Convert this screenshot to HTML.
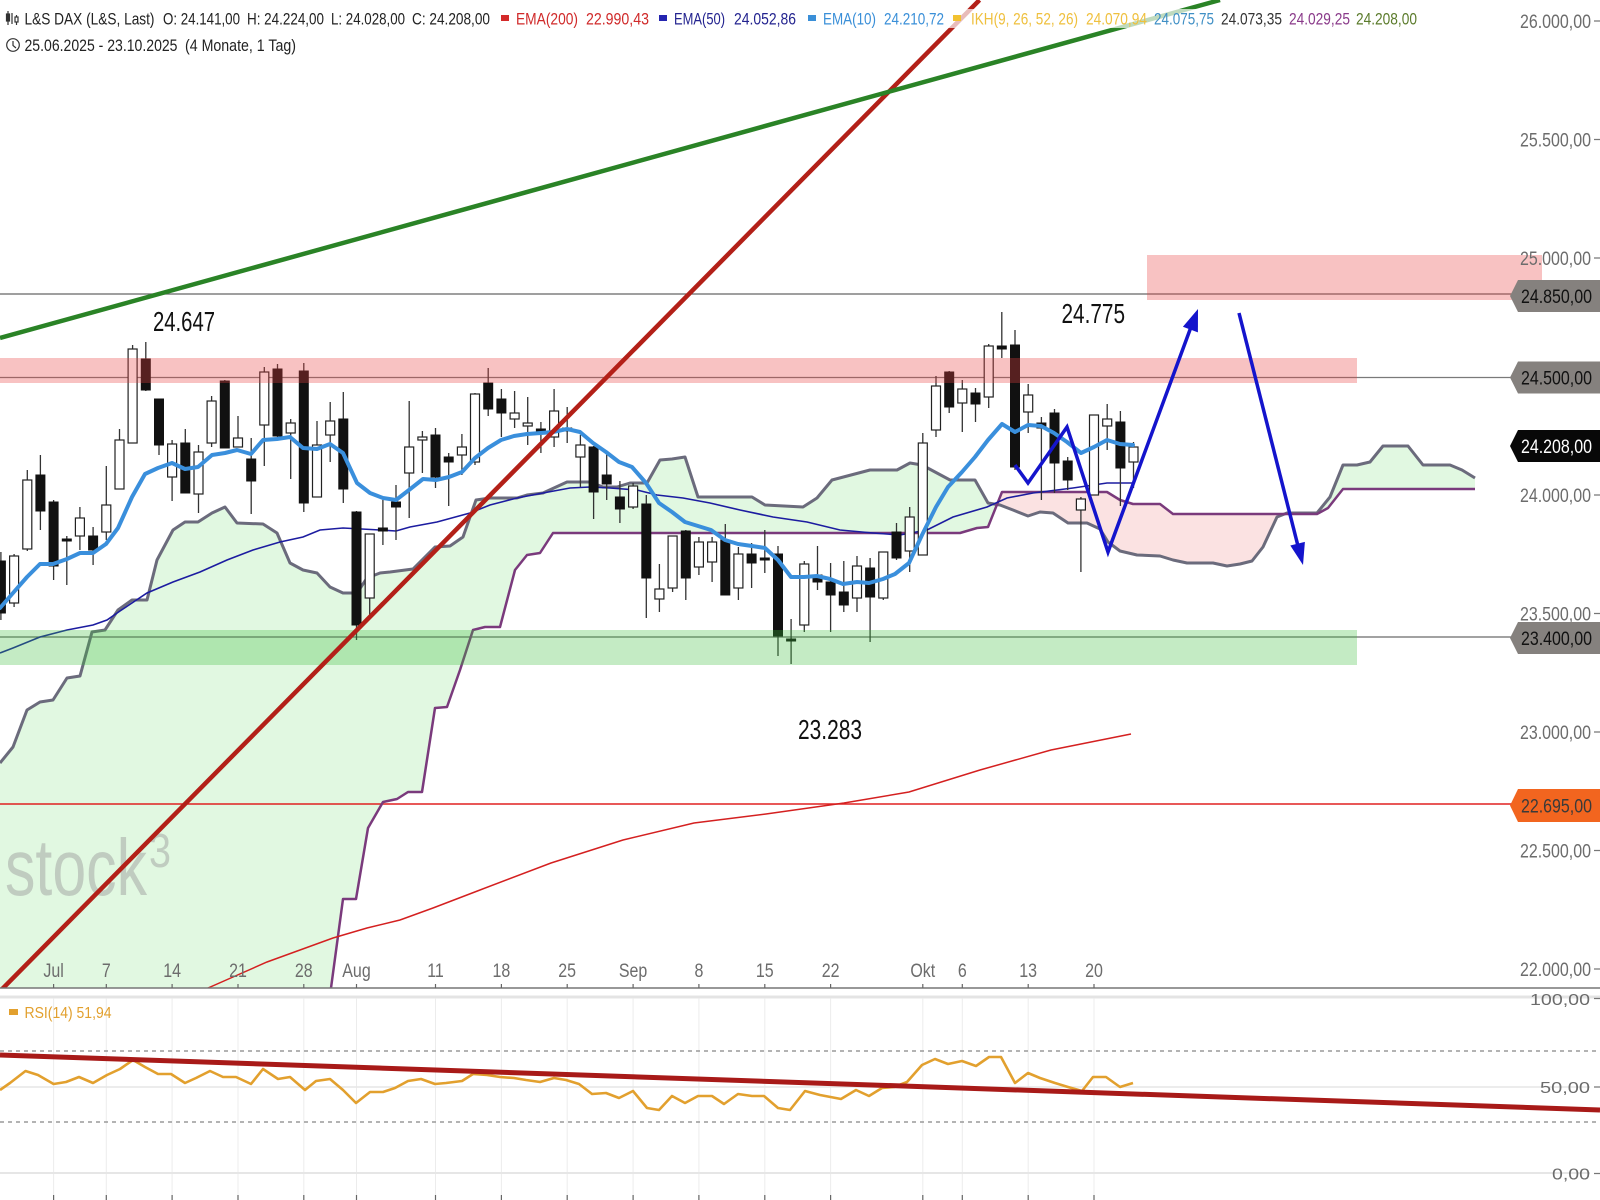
<!DOCTYPE html>
<html><head><meta charset="utf-8"><style>
html,body{margin:0;padding:0;background:#fff;}
svg{display:block;}
text{font-family:"Liberation Sans",Arial,sans-serif;}
</style></head><body>
<svg width="1600" height="1200" viewBox="0 0 1600 1200" xmlns="http://www.w3.org/2000/svg">
<defs>
<clipPath id="cMain"><rect x="0" y="0" width="1600" height="988"/></clipPath>
<clipPath id="cRsi"><rect x="0" y="990" width="1600" height="210"/></clipPath>
<mask id="mNotP" maskUnits="userSpaceOnUse" x="0" y="0" width="1600" height="1000"><rect x="0" y="0" width="1600" height="1000" fill="#fff"/>
<path fill="#000" d="M326,1000 L331,988 L343,899 L356,899 L368,828 L383,802 L397,799 L408,792 L422,792 L435,708 L447,707 L460,670 L473,630 L485,627 L500,627 L515,570 L527,555 L540,553 L553,533 L960,533 L977,528 L988,527 L1002,492 L1107,492 L1120,500 L1133,504 L1160,504 L1173,514 L1317,514 L1328,508 L1343,489 L1475,489 L1475,1000 Z"/></mask>
<mask id="mNotG" maskUnits="userSpaceOnUse" x="0" y="0" width="1600" height="1000"><rect x="0" y="0" width="1600" height="1000" fill="#fff"/>
<path fill="#000" d="M0,763 L13,747 L27,710 L40,702 L53,700 L67,678 L80,676 L92,632 L105,630 L118,610 L132,600 L147,600 L157,560 L173,530 L185,522 L198,522 L212,513 L225,507 L237,523 L263,524 L277,533 L290,563 L303,570 L317,573 L330,587 L343,593 L357,593 L367,578 L380,573 L390,572 L413,569 L435,547 L450,546 L463,537 L476,500 L490,498 L517,498 L527,495 L543,493 L567,482 L590,482 L603,487 L617,487 L630,483 L647,483 L660,460 L672,459 L685,457 L698,497 L752,497 L765,505 L803,507 L817,498 L832,480 L870,470 L897,470 L910,463 L922,465 L950,480 L975,480 L988,503 L1000,505 L1013,510 L1028,516 L1040,512 L1053,513 L1068,523 L1087,523 L1100,529 L1108,542 L1120,551 L1137,555 L1160,556 L1173,560 L1187,563 L1213,563 L1227,566 L1240,564 L1252,561 L1263,547 L1277,517 L1287,513 L1317,513 L1330,497 L1343,465 L1357,465 L1370,462 L1383,446 L1408,446 L1423,465 L1450,465 L1462,470 L1475,478 L1475,1000 L0,1000 Z"/></mask>
</defs>

<g clip-path="url(#cMain)">
<!-- cloud fills -->
<path fill="#e1f8e1" mask="url(#mNotP)" d="M0,763 L13,747 L27,710 L40,702 L53,700 L67,678 L80,676 L92,632 L105,630 L118,610 L132,600 L147,600 L157,560 L173,530 L185,522 L198,522 L212,513 L225,507 L237,523 L263,524 L277,533 L290,563 L303,570 L317,573 L330,587 L343,593 L357,593 L367,578 L380,573 L390,572 L413,569 L435,547 L450,546 L463,537 L476,500 L490,498 L517,498 L527,495 L543,493 L567,482 L590,482 L603,487 L617,487 L630,483 L647,483 L660,460 L672,459 L685,457 L698,497 L752,497 L765,505 L803,507 L817,498 L832,480 L870,470 L897,470 L910,463 L922,465 L950,480 L975,480 L988,503 L1000,505 L1013,510 L1028,516 L1040,512 L1053,513 L1068,523 L1087,523 L1100,529 L1108,542 L1120,551 L1137,555 L1160,556 L1173,560 L1187,563 L1213,563 L1227,566 L1240,564 L1252,561 L1263,547 L1277,517 L1287,513 L1317,513 L1330,497 L1343,465 L1357,465 L1370,462 L1383,446 L1408,446 L1423,465 L1450,465 L1462,470 L1475,478 L1475,1000 L0,1000 Z"/>
<path fill="#fbe2e2" mask="url(#mNotG)" d="M326,1000 L331,988 L343,899 L356,899 L368,828 L383,802 L397,799 L408,792 L422,792 L435,708 L447,707 L460,670 L473,630 L485,627 L500,627 L515,570 L527,555 L540,553 L553,533 L960,533 L977,528 L988,527 L1002,492 L1107,492 L1120,500 L1133,504 L1160,504 L1173,514 L1317,514 L1328,508 L1343,489 L1475,489 L1475,1000 Z"/>

<!-- watermark -->
<g fill="#999" opacity="0.45">
<text x="5" y="895" font-size="80" textLength="142" lengthAdjust="spacingAndGlyphs">stock</text>
<text x="149" y="867" font-size="48" textLength="22" lengthAdjust="spacingAndGlyphs">3</text>
</g>

<!-- horizontal level lines -->
<line x1="0" y1="294" x2="1512" y2="294" stroke="#666" stroke-width="1.3"/>
<line x1="0" y1="377.5" x2="1512" y2="377.5" stroke="#7a7a7a" stroke-width="1.3"/>
<line x1="0" y1="637" x2="1512" y2="637" stroke="#6a6a6a" stroke-width="1.3"/>
<line x1="0" y1="804" x2="1512" y2="804" stroke="#e02020" stroke-width="1.5"/>

<!-- ichimoku lines -->
<path fill="none" stroke="#6b6b7c" stroke-width="3" stroke-linejoin="round" d="M0,763 L13,747 L27,710 L40,702 L53,700 L67,678 L80,676 L92,632 L105,630 L118,610 L132,600 L147,600 L157,560 L173,530 L185,522 L198,522 L212,513 L225,507 L237,523 L263,524 L277,533 L290,563 L303,570 L317,573 L330,587 L343,593 L357,593 L367,578 L380,573 L390,572 L413,569 L435,547 L450,546 L463,537 L476,500 L490,498 L517,498 L527,495 L543,493 L567,482 L590,482 L603,487 L617,487 L630,483 L647,483 L660,460 L672,459 L685,457 L698,497 L752,497 L765,505 L803,507 L817,498 L832,480 L870,470 L897,470 L910,463 L922,465 L950,480 L975,480 L988,503 L1000,505 L1013,510 L1028,516 L1040,512 L1053,513 L1068,523 L1087,523 L1100,529 L1108,542 L1120,551 L1137,555 L1160,556 L1173,560 L1187,563 L1213,563 L1227,566 L1240,564 L1252,561 L1263,547 L1277,517 L1287,513 L1317,513 L1330,497 L1343,465 L1357,465 L1370,462 L1383,446 L1408,446 L1423,465 L1450,465 L1462,470 L1475,478"/>
<path fill="none" stroke="#7a3a7c" stroke-width="2.5" stroke-linejoin="round" d="M326,1000 L331,988 L343,899 L356,899 L368,828 L383,802 L397,799 L408,792 L422,792 L435,708 L447,707 L460,670 L473,630 L485,627 L500,627 L515,570 L527,555 L540,553 L553,533 L960,533 L977,528 L988,527 L1002,492 L1107,492 L1120,500 L1133,504 L1160,504 L1173,514 L1317,514 L1328,508 L1343,489 L1475,489"/>

<!-- EMA50 -->
<path fill="none" stroke="#1c1ca0" stroke-width="1.6" d="M0,653 L13,648 L40,637 L67,630 L93,625 L107,620 L120,611 L147,593 L173,582 L200,572 L227,560 L253,550 L280,542 L303,537 L320,530 L343,528 L380,530 L396,531 L410,527 L437,522 L470,513 L490,505 L517,498 L543,493 L570,488 L590,487 L610,488 L637,490 L657,495 L683,498 L710,503 L740,510 L773,517 L807,522 L840,530 L873,533 L900,535 L927,530 L953,517 L987,507 L1007,498 L1033,493 L1073,488 L1107,483 L1133,483"/>
<!-- EMA200 -->
<path fill="none" stroke="#d42020" stroke-width="1.5" d="M200,992 L208,988 L233,977 L267,962 L300,950 L333,938 L367,928 L400,920 L433,908 L480,890 L551,863 L623,840 L694,823 L766,814 L844,803 L909,792 L980,770 L1051,750 L1131,734"/>

<!-- candle wicks -->
<path fill="none" stroke="#333" stroke-width="1.3" d="M0.9,552V620 M14.1,554V607 M27.3,470V551 M40.4,455V530 M53.6,500V580 M66.8,536V585 M79.9,507V550 M93.1,527V565 M106.3,466V540 M119.5,429V489 M132.6,345V443 M145.8,342V391 M159,399V455 M172.1,440V501 M185.3,429V493 M198.5,445V513 M211.6,396V447 M224.8,380V448 M238,416V447 M251.2,438V514 M264.3,367V466 M277.5,364V437 M290.7,419V479 M303.8,363V512 M317,421V497 M330.2,402V462 M343.3,392V503 M356.5,511V640 M369.7,534V617 M382.9,500V545 M396,485V540 M409.2,401V518 M422.4,431V473 M435.5,428V488 M448.7,453V506 M461.9,434V475 M475,393V465 M488.2,368V416 M501.4,389V437 M514.6,391V428 M527.7,397V445 M540.9,422V453 M554.1,389V447 M567.2,407V443 M580.4,435V487 M593.6,446V519 M606.7,453V500 M619.9,481V523 M633.1,483V509 M646.3,495V618 M659.4,564V612 M672.6,536V592 M685.8,530V600 M698.9,537V575 M712.1,537V582 M725.3,524V595 M738.4,547V600 M751.6,543V588 M764.8,530V573 M778,546V656 M791.1,619V664 M804.3,561V632 M817.5,546V590 M830.6,563V632 M843.8,561V612 M857,556V612 M870.1,558V642 M883.3,552V600 M896.5,523V560 M909.7,507V572 M922.8,433V555 M936,376V437 M949.2,371V413 M962.3,380V432 M975.5,388V422 M988.7,344V408 M1001.8,312V358 M1015,330V470 M1028.2,384V433 M1041.4,417V500 M1054.5,409V493 M1067.7,457V490 M1080.9,497V572 M1094,415V495 M1107.2,404V450 M1120.4,411V506 M1133.5,442V488"/>

<!-- black bodies -->
<g fill="#111" stroke="#111" stroke-width="1">
<rect x="-3.6" y="561" width="9" height="52"/>
<rect x="35.9" y="475" width="9" height="36"/>
<rect x="49.1" y="502" width="9" height="64"/>
<rect x="62.3" y="539" width="9" height="2"/>
<rect x="88.6" y="536" width="9" height="14"/>
<rect x="141.3" y="359" width="9" height="31"/>
<rect x="154.5" y="399" width="9" height="46"/>
<rect x="180.8" y="443" width="9" height="50"/>
<rect x="220.3" y="381" width="9" height="67"/>
<rect x="246.7" y="459" width="9" height="22"/>
<rect x="273" y="369" width="9" height="67"/>
<rect x="299.3" y="371" width="9" height="132"/>
<rect x="338.8" y="419" width="9" height="70"/>
<rect x="352" y="512" width="9" height="113"/>
<rect x="378.4" y="528" width="9" height="3"/>
<rect x="391.5" y="502" width="9" height="5"/>
<rect x="431" y="435" width="9" height="42"/>
<rect x="444.2" y="457" width="9" height="5"/>
<rect x="483.7" y="383" width="9" height="26"/>
<rect x="496.9" y="399" width="9" height="14"/>
<rect x="536.4" y="429" width="9" height="2"/>
<rect x="562.7" y="428" width="9" height="3"/>
<rect x="589.1" y="447" width="9" height="45"/>
<rect x="602.2" y="475" width="9" height="9"/>
<rect x="615.4" y="497" width="9" height="12"/>
<rect x="641.8" y="504" width="9" height="74"/>
<rect x="681.3" y="531" width="9" height="47"/>
<rect x="720.8" y="540" width="9" height="55"/>
<rect x="747.1" y="554" width="9" height="9"/>
<rect x="760.3" y="558" width="9" height="2"/>
<rect x="773.5" y="554" width="9" height="82"/>
<rect x="786.6" y="639" width="9" height="2"/>
<rect x="813" y="575" width="9" height="7"/>
<rect x="826.1" y="582" width="9" height="13"/>
<rect x="839.3" y="592" width="9" height="13"/>
<rect x="865.6" y="568" width="9" height="29"/>
<rect x="892" y="532" width="9" height="26"/>
<rect x="944.7" y="372" width="9" height="35"/>
<rect x="971" y="393" width="9" height="11"/>
<rect x="997.3" y="346" width="9" height="3"/>
<rect x="1010.5" y="345" width="9" height="122"/>
<rect x="1036.9" y="423" width="9" height="5"/>
<rect x="1050" y="413" width="9" height="50"/>
<rect x="1063.2" y="461" width="9" height="19"/>
<rect x="1115.9" y="422" width="9" height="46"/>
</g>
<!-- white bodies -->
<g fill="#fff" stroke="#222" stroke-width="1.2">
<rect x="9.6" y="556" width="9" height="47"/>
<rect x="22.8" y="480" width="9" height="69"/>
<rect x="75.4" y="518" width="9" height="18"/>
<rect x="101.8" y="505" width="9" height="27"/>
<rect x="115" y="440" width="9" height="49"/>
<rect x="128.1" y="349" width="9" height="94"/>
<rect x="167.6" y="444" width="9" height="33"/>
<rect x="194" y="452" width="9" height="42"/>
<rect x="207.1" y="401" width="9" height="42"/>
<rect x="233.5" y="438" width="9" height="9"/>
<rect x="259.8" y="372" width="9" height="53"/>
<rect x="286.2" y="423" width="9" height="10"/>
<rect x="312.5" y="445" width="9" height="52"/>
<rect x="325.7" y="421" width="9" height="14"/>
<rect x="365.2" y="534" width="9" height="64"/>
<rect x="404.7" y="447" width="9" height="26"/>
<rect x="417.9" y="437" width="9" height="3"/>
<rect x="457.4" y="447" width="9" height="8"/>
<rect x="470.5" y="394" width="9" height="68"/>
<rect x="510.1" y="413" width="9" height="6"/>
<rect x="523.2" y="423" width="9" height="3"/>
<rect x="549.6" y="411" width="9" height="26"/>
<rect x="575.9" y="445" width="9" height="12"/>
<rect x="628.6" y="486" width="9" height="21"/>
<rect x="654.9" y="589" width="9" height="10"/>
<rect x="668.1" y="536" width="9" height="52"/>
<rect x="694.4" y="542" width="9" height="25"/>
<rect x="707.6" y="542" width="9" height="20"/>
<rect x="733.9" y="554" width="9" height="34"/>
<rect x="799.8" y="564" width="9" height="61"/>
<rect x="852.5" y="566" width="9" height="32"/>
<rect x="878.8" y="552" width="9" height="46"/>
<rect x="905.2" y="517" width="9" height="34"/>
<rect x="918.3" y="443" width="9" height="112"/>
<rect x="931.5" y="386" width="9" height="44"/>
<rect x="957.8" y="389" width="9" height="14"/>
<rect x="984.2" y="346" width="9" height="51"/>
<rect x="1023.7" y="395" width="9" height="17"/>
<rect x="1076.4" y="499" width="9" height="11"/>
<rect x="1089.5" y="415" width="9" height="80"/>
<rect x="1102.7" y="419" width="9" height="7"/>
<rect x="1129" y="447" width="9" height="15"/>
</g>

<!-- EMA10 -->
<path fill="none" stroke="#3a8fdc" stroke-width="4" stroke-linejoin="round" stroke-linecap="round" d="M0,608 L13,593 L27,577 L40,564 L53,564 L67,559 L80,553 L93,553 L106,544 L118,528 L132,497 L145,474 L158,468 L172,463 L185,469 L198,467 L212,455 L225,453 L237,450 L251,454 L263,440 L277,439 L290,437 L303,448 L317,449 L330,444 L343,453 L357,483 L370,493 L383,498 L396,500 L409,490 L423,479 L436,480 L449,477 L462,472 L475,458 L488,448 L501,440 L514,436 L527,434 L541,433 L553,432 L567,429 L580,432 L593,443 L606,452 L619,462 L632,467 L646,483 L659,503 L672,512 L685,522 L698,526 L711,530 L725,540 L738,544 L752,546 L765,548 L778,560 L791,577 L804,577 L817,576 L830,579 L843,584 L857,582 L869,583 L883,579 L895,574 L909,563 L922,535 L936,507 L948,487 L962,472 L975,457 L988,440 L1002,424 L1015,432 L1028,425 L1041,426 L1054,433 L1067,442 L1081,453 L1094,447 L1107,440 L1120,444 L1133,445"/>

<!-- zones -->
<rect x="1147" y="255" width="395" height="45" fill="rgb(232,64,64)" fill-opacity="0.32"/>
<rect x="0" y="358" width="1357" height="25" fill="rgb(232,64,64)" fill-opacity="0.32"/>
<rect x="0" y="630" width="1357" height="35" fill="rgb(60,190,60)" fill-opacity="0.3"/>

<!-- trend lines -->
<line x1="0" y1="991.2" x2="979.5" y2="0" stroke="#b32018" stroke-width="4.5"/>
<line x1="0" y1="338" x2="1220" y2="0" stroke="#2a8326" stroke-width="4.5"/>

<!-- blue arrows -->
<polyline fill="none" stroke="#1414cc" stroke-width="3.5" stroke-linejoin="miter" points="1015,465 1028,483 1067,427 1108,552 1191,327"/>
<polygon fill="#1414cc" points="1198,309 1182.9,326.8 1197.9,332.4"/>
<line x1="1239" y1="313" x2="1298" y2="546" stroke="#1414cc" stroke-width="3.5"/>
<polygon fill="#1414cc" points="1303,565 1290.3,545.5 1304.9,541.9"/>

<!-- annotations -->
<g fill="#111" font-size="28">
<text x="153" y="331" textLength="62" lengthAdjust="spacingAndGlyphs">24.647</text>
<text x="1061.5" y="323" textLength="63.5" lengthAdjust="spacingAndGlyphs">24.775</text>
<text x="798" y="739" textLength="64" lengthAdjust="spacingAndGlyphs">23.283</text>
</g>
</g>

<!-- x axis -->
<line x1="0" y1="988" x2="1600" y2="988" stroke="#777" stroke-width="1.6"/>
<path stroke="#666" stroke-width="1.2" d="M53.6,984V988 M106.3,984V988 M172.1,984V988 M238,984V988 M303.8,984V988 M356.5,984V988 M435.5,984V988 M501.4,984V988 M567.2,984V988 M633.1,984V988 M698.9,984V988 M764.8,984V988 M830.6,984V988 M922.8,984V988 M962.3,984V988 M1028.2,984V988 M1094,984V988"/>
<g transform="scale(0.82,1)" fill="#6c6c6c" font-size="19.5" text-anchor="middle">
<text x="65.37" y="977">Jul</text>
<text x="129.63" y="977">7</text>
<text x="209.88" y="977">14</text>
<text x="290.24" y="977">21</text>
<text x="370.49" y="977">28</text>
<text x="434.76" y="977">Aug</text>
<text x="531.1" y="977">11</text>
<text x="611.46" y="977">18</text>
<text x="691.71" y="977">25</text>
<text x="772.07" y="977">Sep</text>
<text x="852.32" y="977">8</text>
<text x="932.68" y="977">15</text>
<text x="1012.93" y="977">22</text>
<text x="1125.37" y="977">Okt</text>
<text x="1173.54" y="977">6</text>
<text x="1253.9" y="977">13</text>
<text x="1334.15" y="977">20</text>
</g>

<!-- price axis -->
<g fill="#6c6c6c" font-size="19.5">
<text x="1520" y="28" textLength="71" lengthAdjust="spacingAndGlyphs">26.000,00</text>
<text x="1520" y="146.5" textLength="71" lengthAdjust="spacingAndGlyphs">25.500,00</text>
<text x="1520" y="265" textLength="71" lengthAdjust="spacingAndGlyphs">25.000,00</text>
<text x="1520" y="502" textLength="71" lengthAdjust="spacingAndGlyphs">24.000,00</text>
<text x="1520" y="620.5" textLength="71" lengthAdjust="spacingAndGlyphs">23.500,00</text>
<text x="1520" y="739" textLength="71" lengthAdjust="spacingAndGlyphs">23.000,00</text>
<text x="1520" y="857.5" textLength="71" lengthAdjust="spacingAndGlyphs">22.500,00</text>
<text x="1520" y="976" textLength="71" lengthAdjust="spacingAndGlyphs">22.000,00</text>
</g>
<path stroke="#777" stroke-width="1.3" d="M1594,21H1600 M1594,139.5H1600 M1594,258H1600 M1594,495H1600 M1594,613.5H1600 M1594,732H1600 M1594,850.5H1600 M1594,969H1600"/>

<!-- price boxes -->
<polygon fill="#85817e" points="1510,296 1518,280 1600,280 1600,312 1518,312"/>
<text x="1521" y="303" font-size="19.5" fill="#111" textLength="71" lengthAdjust="spacingAndGlyphs">24.850,00</text>
<polygon fill="#85817e" points="1510,377.5 1518,361.5 1600,361.5 1600,393.5 1518,393.5"/>
<text x="1521" y="384.5" font-size="19.5" fill="#111" textLength="71" lengthAdjust="spacingAndGlyphs">24.500,00</text>
<polygon fill="#080808" points="1510,446 1518,430 1600,430 1600,462 1518,462"/>
<text x="1521" y="453" font-size="19.5" fill="#fff" textLength="71" lengthAdjust="spacingAndGlyphs">24.208,00</text>
<polygon fill="#85817e" points="1510,638 1518,622 1600,622 1600,654 1518,654"/>
<text x="1521" y="645" font-size="19.5" fill="#111" textLength="71" lengthAdjust="spacingAndGlyphs">23.400,00</text>
<polygon fill="#f2651f" points="1510,805.5 1518,789 1600,789 1600,822 1518,822"/>
<text x="1521" y="812.5" font-size="19.5" fill="#3a3a3a" textLength="71" lengthAdjust="spacingAndGlyphs">22.695,00</text>

<!-- RSI panel -->
<g clip-path="url(#cRsi)">
<line x1="0" y1="997" x2="1600" y2="997" stroke="#e4e4e4" stroke-width="3"/>
<path stroke="#ececec" stroke-width="1" d="M53.6,998V1200 M106.3,998V1200 M172.1,998V1200 M238,998V1200 M303.8,998V1200 M356.5,998V1200 M435.5,998V1200 M501.4,998V1200 M567.2,998V1200 M633.1,998V1200 M698.9,998V1200 M764.8,998V1200 M830.6,998V1200 M922.8,998V1200 M962.3,998V1200 M1028.2,998V1200 M1094,998V1200"/>
<line x1="0" y1="1087" x2="1590" y2="1087" stroke="#e6e6e6" stroke-width="1.5"/>
<line x1="0" y1="1173" x2="1590" y2="1173" stroke="#e6e6e6" stroke-width="2"/>
<line x1="0" y1="1051" x2="1600" y2="1051" stroke="#9a9a9a" stroke-width="1.5" stroke-dasharray="4,4"/>
<line x1="0" y1="1122" x2="1600" y2="1122" stroke="#9a9a9a" stroke-width="1.5" stroke-dasharray="4,4"/>
<path stroke="#666" stroke-width="1.2" d="M53.6,1195V1200 M106.3,1195V1200 M172.1,1195V1200 M238,1195V1200 M303.8,1195V1200 M356.5,1195V1200 M435.5,1195V1200 M501.4,1195V1200 M567.2,1195V1200 M633.1,1195V1200 M698.9,1195V1200 M764.8,1195V1200 M830.6,1195V1200 M922.8,1195V1200 M962.3,1195V1200 M1028.2,1195V1200 M1094,1195V1200"/>
<path fill="none" stroke="#e2a02e" stroke-width="2.6" stroke-linejoin="round" d="M0,1090 L10,1083 L25.5,1071 L38,1075 L53.6,1084 L66,1082 L79,1077 L93,1083 L107,1075 L120,1069 L133,1060 L145,1067 L158,1074 L171,1074 L185,1083 L196,1078 L210,1071 L223,1077 L236,1077 L251,1084 L263,1069 L278,1079 L290,1077 L305,1090 L316,1081 L330,1079 L343,1090 L356,1103 L370,1092 L383,1092 L395,1088 L408,1081 L421,1079 L435,1084 L446,1083 L462,1081 L473,1074 L487,1075 L500,1077 L514,1078 L526,1080 L540,1082 L554,1078 L566,1080 L579,1084 L592,1094 L606,1093 L619,1098 L633,1091 L647,1108 L659,1110 L672,1096 L685,1103 L698,1096 L712,1096 L724,1104 L738,1094 L752,1096 L764,1096 L778,1108 L790,1110 L805,1091 L820,1095 L841,1099 L856,1090 L869,1096 L882,1088 L894,1087 L907,1082 L922,1065 L935,1059 L948,1064 L962,1061 L976,1066 L989,1057 L1001,1057 L1015,1083 L1028,1073 L1040,1078 L1055,1083 L1068,1087 L1082,1091 L1093,1077 L1106,1077 L1120,1087 L1133,1083"/>
<line x1="0" y1="1055" x2="1600" y2="1110" stroke="#a81a18" stroke-width="5"/>
</g>
<rect x="9" y="1009" width="9" height="6" fill="#e2a02e"/>
<text x="24.5" y="1018" font-size="16" fill="#e2a02e" textLength="87" lengthAdjust="spacingAndGlyphs">RSI(14) 51,94</text>
<g fill="#6c6c6c" font-size="16">
<text x="1530" y="1005" textLength="60" lengthAdjust="spacingAndGlyphs">100,00</text>
<text x="1540" y="1093" textLength="50" lengthAdjust="spacingAndGlyphs">50,00</text>
<text x="1552" y="1179.5" textLength="38" lengthAdjust="spacingAndGlyphs">0,00</text>
</g>
<path stroke="#777" stroke-width="1.3" d="M1594,998.5H1600 M1594,1087H1600 M1594,1173.5H1600"/>

<!-- header -->
<rect x="800" y="9" width="620" height="19" fill="#fff" fill-opacity="0.7"/>
<g stroke="#333" stroke-width="1.2" fill="none">
<path d="M8,11V25 M12,13V24 M16.5,15V25"/>
<rect x="6.5" y="14" width="3" height="7" fill="#333"/>
<rect x="15" y="17" width="3" height="5" fill="#fff"/>
<circle cx="13" cy="45" r="6.3"/>
<path d="M13,41V45.5L16,48"/>
</g>
<g font-size="17">
<text x="24.5" y="24.5" fill="#222" textLength="130" lengthAdjust="spacingAndGlyphs">L&amp;S DAX (L&amp;S, Last)</text>
<text x="163" y="24.5" fill="#222" textLength="77" lengthAdjust="spacingAndGlyphs">O: 24.141,00</text>
<text x="247" y="24.5" fill="#222" textLength="77" lengthAdjust="spacingAndGlyphs">H: 24.224,00</text>
<text x="331" y="24.5" fill="#222" textLength="74" lengthAdjust="spacingAndGlyphs">L: 24.028,00</text>
<text x="412" y="24.5" fill="#222" textLength="78" lengthAdjust="spacingAndGlyphs">C: 24.208,00</text>
<rect x="501" y="15" width="8" height="6" fill="#d42a2a"/>
<text x="516" y="24.5" fill="#d02a2a" textLength="62" lengthAdjust="spacingAndGlyphs">EMA(200)</text>
<text x="586" y="24.5" fill="#d02a2a" textLength="63" lengthAdjust="spacingAndGlyphs">22.990,43</text>
<rect x="659" y="15" width="8" height="6" fill="#2525b0"/>
<text x="674" y="24.5" fill="#23238f" textLength="51" lengthAdjust="spacingAndGlyphs">EMA(50)</text>
<text x="734" y="24.5" fill="#23238f" textLength="62" lengthAdjust="spacingAndGlyphs">24.052,86</text>
<rect x="808" y="15" width="8" height="6" fill="#3a8fd8"/>
<text x="823" y="24.5" fill="#3a8fd8" textLength="53" lengthAdjust="spacingAndGlyphs">EMA(10)</text>
<text x="884" y="24.5" fill="#3a8fd8" textLength="60" lengthAdjust="spacingAndGlyphs">24.210,72</text>
<rect x="953" y="15" width="8" height="6" fill="#f2c230"/>
<text x="971" y="24.5" fill="#efc03e" textLength="107" lengthAdjust="spacingAndGlyphs">IKH(9, 26, 52, 26)</text>
<text x="1086" y="24.5" fill="#efc03e" textLength="61" lengthAdjust="spacingAndGlyphs">24.070,94</text>
<text x="1154" y="24.5" fill="#3f8fc5" textLength="60" lengthAdjust="spacingAndGlyphs">24.075,75</text>
<text x="1221" y="24.5" fill="#333" textLength="61" lengthAdjust="spacingAndGlyphs">24.073,35</text>
<text x="1289" y="24.5" fill="#8a3a8a" textLength="61" lengthAdjust="spacingAndGlyphs">24.029,25</text>
<text x="1356" y="24.5" fill="#5b7b2b" textLength="61" lengthAdjust="spacingAndGlyphs">24.208,00</text>
<text x="24.5" y="51" fill="#222" textLength="153" lengthAdjust="spacingAndGlyphs">25.06.2025 - 23.10.2025</text>
<text x="185" y="51" fill="#222" textLength="111" lengthAdjust="spacingAndGlyphs">(4 Monate, 1 Tag)</text>
</g>
</svg>
</body></html>
